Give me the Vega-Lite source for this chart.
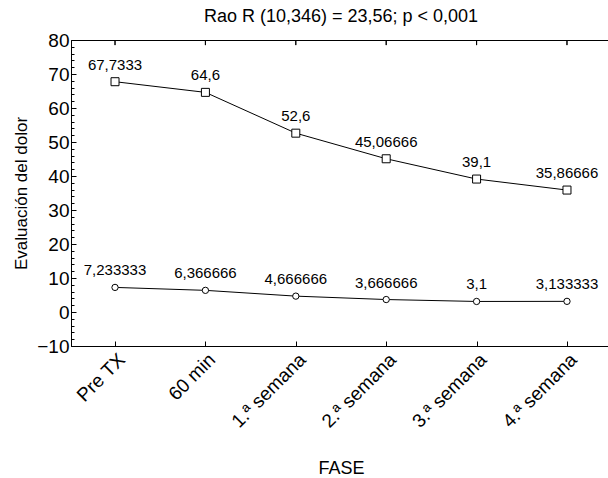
{
  "$schema": "https://vega.github.io/schema/vega-lite/v6.json",
  "width": 540,
  "height": 306,
  "autosize": "none",
  "padding": {"left": 71, "top": 40, "right": 0, "bottom": 132},
  "config": {
    "font": "Liberation Sans",
    "view": {"stroke": "black", "strokeWidth": 1},
    "axis": {"domainColor": "black", "tickColor": "black", "labelColor": "black", "titleColor": "black", "grid": false, "labelFont": "Liberation Sans", "titleFont": "Liberation Sans", "titleFontWeight": "normal"}
  },
  "title": {"text": "Rao R (10,346) = 23,56; p < 0,001", "fontSize": 18, "font": "Liberation Sans", "fontWeight": "normal", "anchor": "middle", "offset": 5, "color": "black"},
  "data": {
    "values": [
      {"fase": "Pre TX", "serie": "A", "valor": 67.7333, "etiqueta": "67,7333"},
      {"fase": "60 min", "serie": "A", "valor": 64.6, "etiqueta": "64,6"},
      {"fase": "1.ª semana", "serie": "A", "valor": 52.6, "etiqueta": "52,6"},
      {"fase": "2.ª semana", "serie": "A", "valor": 45.06666, "etiqueta": "45,06666"},
      {"fase": "3.ª semana", "serie": "A", "valor": 39.1, "etiqueta": "39,1"},
      {"fase": "4.ª semana", "serie": "A", "valor": 35.86666, "etiqueta": "35,86666"},
      {"fase": "Pre TX", "serie": "B", "valor": 7.233333, "etiqueta": "7,233333"},
      {"fase": "60 min", "serie": "B", "valor": 6.366666, "etiqueta": "6,366666"},
      {"fase": "1.ª semana", "serie": "B", "valor": 4.666666, "etiqueta": "4,666666"},
      {"fase": "2.ª semana", "serie": "B", "valor": 3.666666, "etiqueta": "3,666666"},
      {"fase": "3.ª semana", "serie": "B", "valor": 3.1, "etiqueta": "3,1"},
      {"fase": "4.ª semana", "serie": "B", "valor": 3.133333, "etiqueta": "3,133333"}
    ]
  },
  "encoding": {
    "x": {
      "field": "fase", "type": "ordinal",
      "sort": ["Pre TX", "60 min", "1.ª semana", "2.ª semana", "3.ª semana", "4.ª semana"],
      "scale": {"type": "point", "padding": 0.487},
      "axis": {"title": "FASE", "titleFontSize": 18, "titlePadding": 28, "labelFontSize": 19, "labelAngle": -45, "labelAlign": "right", "labelBaseline": "top", "tickSize": -5, "labelPadding": 9, "domain": true}
    },
    "y": {
      "field": "valor", "type": "quantitative",
      "scale": {"domain": [-10, 80], "nice": false, "zero": false},
      "axis": {
        "title": "Evaluación del dolor", "titleFontSize": 17, "titlePadding": 6,
        "values": [-10, -8, -6, -4, -2, 0, 2, 4, 6, 8, 10, 12, 14, 16, 18, 20, 22, 24, 26, 28, 30, 32, 34, 36, 38, 40, 42, 44, 46, 48, 50, 52, 54, 56, 58, 60, 62, 64, 66, 68, 70, 72, 74, 76, 78, 80],
        "labelExpr": "datum.value % 10 === 0 ? datum.label : ''",
        "labelFontSize": 19, "labelOverlap": false, "labelPadding": 7,
        "tickSize": {"condition": {"test": "datum.value % 10 === 0", "value": -5}, "value": -3}
      }
    }
  },
  "layer": [
    {"mark": {"type": "line", "color": "black", "strokeWidth": 1}, "encoding": {"detail": {"field": "serie"}}},
    {
      "mark": {"type": "point", "filled": true, "fill": "white", "stroke": "black", "strokeWidth": 1, "opacity": 1},
      "encoding": {
        "shape": {"field": "serie", "scale": {"domain": ["A", "B"], "range": ["square", "circle"]}, "legend": null},
        "size": {"field": "serie", "scale": {"domain": ["A", "B"], "range": [64, 40]}, "legend": null}
      }
    },
    {"mark": {"type": "text", "dy": -17, "fontSize": 15, "font": "Liberation Sans", "color": "black"}, "encoding": {"text": {"field": "etiqueta"}}},
    {"mark": {"type": "rule", "color": "black", "strokeWidth": 1}, "encoding": {"y": {"datum": 80}, "y2": {"datum": 78.5}}}
  ]
}
